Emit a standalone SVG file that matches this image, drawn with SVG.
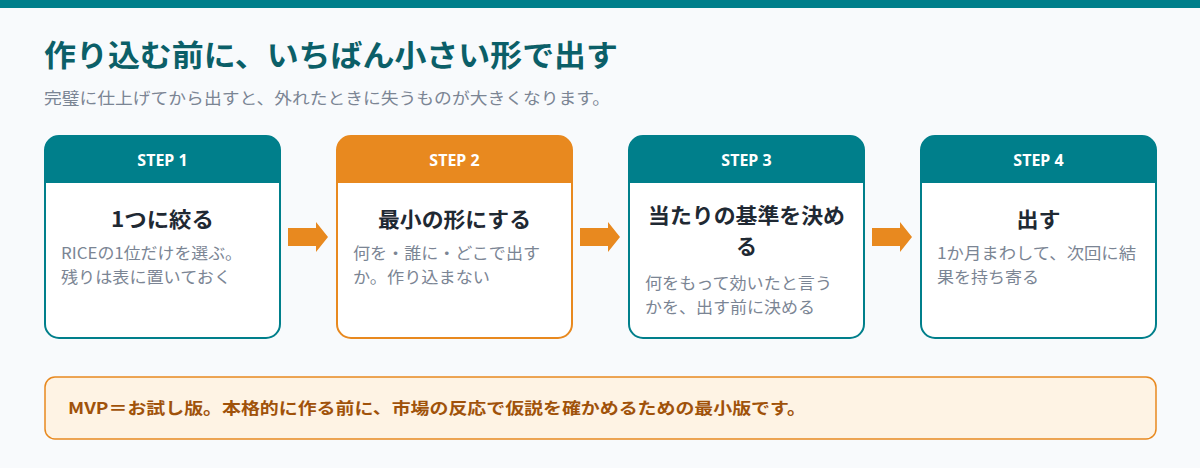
<svg xmlns="http://www.w3.org/2000/svg" width="1200" height="468" viewBox="0 0 1200 468">
<style>
.t{font-family:"Noto Sans CJK JP","Noto Sans",sans-serif}
.hd{font-family:"Noto Sans","Noto Sans CJK JP",sans-serif;font-weight:700;font-size:16px;fill:#fff;text-anchor:middle}
.ti{font-weight:700;font-size:21px;fill:#1f2933;text-anchor:middle}
.bd{font-size:16px;fill:#7b8594}
.arr{fill:#e8891f}
</style>
<rect width="1200" height="468" fill="#f8fafc"/>
<rect width="1200" height="8" fill="#007f8b"/>
<text class="t" x="44" y="66" font-size="30" font-weight="700" fill="#0b5f68" textLength="574" lengthAdjust="spacingAndGlyphs">作り込む前に、いちばん小さい形で出す</text>
<text class="t" x="44" y="104" font-size="16" fill="#7b8594" textLength="566" lengthAdjust="spacingAndGlyphs">完璧に仕上げてから出すと、外れたときに失うものが大きくなります。</text>
<g id="step1">
<rect x="45" y="136" width="235" height="202" rx="14" fill="#fff" stroke="#007f8b" stroke-width="2"/>
<path d="M45 183V150a14 14 0 0 1 14-14h207a14 14 0 0 1 14 14v33z" fill="#007f8b"/>
<text class="hd" x="162.5" y="166">STEP 1</text>
<text class="t ti" x="162.5" y="227" textLength="103" lengthAdjust="spacingAndGlyphs">1つに絞る</text>
<text class="t bd" x="61" y="259" textLength="181" lengthAdjust="spacingAndGlyphs">RICEの1位だけを選ぶ。</text>
<text class="t bd" x="61" y="283" textLength="170" lengthAdjust="spacingAndGlyphs">残りは表に置いておく</text>
</g>
<g id="step2">
<rect x="337" y="136" width="235" height="202" rx="14" fill="#fff" stroke="#e8891f" stroke-width="2"/>
<path d="M337 183V150a14 14 0 0 1 14-14h207a14 14 0 0 1 14 14v33z" fill="#e8891f"/>
<text class="hd" x="454.5" y="166">STEP 2</text>
<text class="t ti" x="454.5" y="227" textLength="153" lengthAdjust="spacingAndGlyphs">最小の形にする</text>
<text class="t bd" x="353" y="259" textLength="187" lengthAdjust="spacingAndGlyphs">何を・誰に・どこで出す</text>
<text class="t bd" x="353" y="283" textLength="137" lengthAdjust="spacingAndGlyphs">か。作り込まない</text>
</g>
<g id="step3">
<rect x="629" y="136" width="235" height="202" rx="14" fill="#fff" stroke="#007f8b" stroke-width="2"/>
<path d="M629 183V150a14 14 0 0 1 14-14h207a14 14 0 0 1 14 14v33z" fill="#007f8b"/>
<text class="hd" x="746.5" y="166">STEP 3</text>
<text class="t ti" x="746.5" y="223" textLength="197" lengthAdjust="spacingAndGlyphs">当たりの基準を決め</text>
<text class="t ti" x="746.5" y="254">る</text>
<text class="t bd" x="645" y="289" textLength="187" lengthAdjust="spacingAndGlyphs">何をもって効いたと言う</text>
<text class="t bd" x="645" y="313" textLength="170" lengthAdjust="spacingAndGlyphs">かを、出す前に決める</text>
</g>
<g id="step4">
<rect x="921" y="136" width="235" height="202" rx="14" fill="#fff" stroke="#007f8b" stroke-width="2"/>
<path d="M921 183V150a14 14 0 0 1 14-14h207a14 14 0 0 1 14 14v33z" fill="#007f8b"/>
<text class="hd" x="1038.5" y="166">STEP 4</text>
<text class="t ti" x="1038.5" y="227" textLength="44" lengthAdjust="spacingAndGlyphs">出す</text>
<text class="t bd" x="937" y="259" textLength="199" lengthAdjust="spacingAndGlyphs">1か月まわして、次回に結</text>
<text class="t bd" x="937" y="283" textLength="102" lengthAdjust="spacingAndGlyphs">果を持ち寄る</text>
</g>
<g id="connectors">
<path class="arr" d="M288 228h28v-6l12 15-12 15v-6h-28z"/>
<path class="arr" d="M580 228h28v-6l12 15-12 15v-6h-28z"/>
<path class="arr" d="M872 228h28v-6l12 15-12 15v-6h-28z"/>
</g>
<g id="note">
<rect x="45" y="377" width="1111" height="62" rx="10" fill="#fef3e4" stroke="#e8891f" stroke-width="1.5"/>
<text class="t" x="68" y="414" font-size="16" font-weight="700" fill="#a0520a" textLength="738" lengthAdjust="spacingAndGlyphs">MVP＝お試し版。本格的に作る前に、市場の反応で仮説を確かめるための最小版です。</text>
</g>
</svg>
